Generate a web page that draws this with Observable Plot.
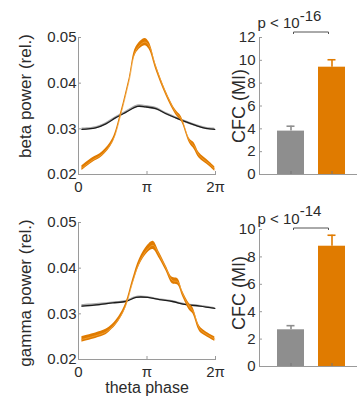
<!DOCTYPE html>
<html>
<head>
<meta charset="utf-8">
<script src="https://cdn.jsdelivr.net/npm/d3@7"></script>
<script src="https://cdn.jsdelivr.net/npm/@observablehq/plot@0.6"></script>
<style>
  html, body { margin: 0; padding: 0; background: #fff; }
  #root { position: relative; width: 357px; height: 406px; overflow: hidden; background: #fff; font-family: "Liberation Sans", Arial, sans-serif; }
  #root > div, #root > svg { position: absolute; }
</style>
</head>
<body>
<div id="root"></div>
<script>
// ---------- data (phase in units of π) ----------
const xTickValues = [0, 1, 2];
const xTickLabels = ["0", "π", "2π"];
const powerTicks = [0.02, 0.03, 0.04, 0.05];

const betaOrangePhase = [0.05, 0.2, 0.35, 0.5, 0.62, 0.74, 0.84, 0.97, 1.03, 1.13, 1.28, 1.42, 1.5, 1.62, 1.69, 1.76, 1.91, 1.99];
const betaOrange      = [0.0214, 0.0231, 0.0245, 0.0274, 0.0333, 0.0406, 0.0472, 0.0490, 0.0482, 0.0435, 0.0377, 0.0336, 0.0322, 0.0274, 0.0262, 0.0242, 0.0223, 0.0212];
const betaOrangeErr   = [0.0005, 0.0005, 0.0005, 0.0005, 0.0005, 0.0005, 0.0007, 0.0008, 0.0008, 0.0006, 0.0005, 0.0005, 0.0005, 0.0005, 0.0007, 0.0006, 0.0005, 0.0005];

const betaBlackPhase  = [0.05, 0.25, 0.4, 0.54, 0.69, 0.86, 0.98, 1.13, 1.28, 1.42, 1.57, 1.72, 1.86, 1.99];
const betaBlack       = [0.0299, 0.0302, 0.0311, 0.0324, 0.0336, 0.0349, 0.0348, 0.0344, 0.0333, 0.0324, 0.0315, 0.0307, 0.0301, 0.0299];
const betaBlackErr    = [0.00025, 0.00025, 0.00025, 0.00025, 0.00025, 0.0003, 0.0003, 0.0003, 0.00025, 0.00025, 0.00025, 0.00025, 0.00025, 0.00025];

const gammaOrangePhase = [0.05, 0.25, 0.4, 0.49, 0.59, 0.69, 0.79, 0.89, 1.01, 1.09, 1.18, 1.28, 1.37, 1.45, 1.52, 1.62, 1.67, 1.77, 1.86, 1.99];
const gammaOrange      = [0.0244, 0.0252, 0.0260, 0.0271, 0.0289, 0.0318, 0.0369, 0.0413, 0.0442, 0.0450, 0.0428, 0.0399, 0.0373, 0.0370, 0.0344, 0.0315, 0.0307, 0.0267, 0.0256, 0.0245];
const gammaOrangeErr   = [0.0006, 0.0006, 0.0006, 0.0005, 0.0005, 0.0005, 0.0006, 0.0007, 0.0008, 0.0009, 0.0007, 0.0006, 0.0007, 0.0007, 0.0006, 0.0007, 0.0007, 0.0006, 0.0005, 0.0005];

const gammaBlackPhase = [0.05, 0.3, 0.5, 0.69, 0.84, 1.01, 1.18, 1.37, 1.57, 1.77, 1.99];
const gammaBlack      = [0.0317, 0.0320, 0.0324, 0.0327, 0.0336, 0.0336, 0.0331, 0.0327, 0.0320, 0.0317, 0.0312];
const gammaBlackErr   = [0.0003, 0.0003, 0.0002, 0.0002, 0.0002, 0.0002, 0.0002, 0.0002, 0.0002, 0.0002, 0.0002];

const cfcGroups   = ["control", "coupled"];
const betaCfc     = [3.8, 9.4];
const betaCfcErr  = [0.43, 0.65];
const gammaCfc    = [2.68, 8.78];
const gammaCfcErr = [0.3, 0.8];
const betaP  = "-16";
const gammaP = "-14";
const betaTicks  = [0, 2, 4, 6, 8, 10, 12];
const gammaTicks = [0, 2, 4, 6, 8, 10];

// ---------- helpers ----------
const ORANGE = "#e07b00", ORANGE_LINE = "#f2a33a", GRAY_BAR = "#8e8e8e", AXIS = "#9a9a9a", TXT = "#2b2b2b";
const FONT = "'Liberation Sans', Arial, sans-serif";
const root = document.getElementById("root");
function rows(px, py, pe) { return px.map((p, i) => ({p, v: py[i], e: pe[i]})); }
function place(el, left, top) { el.style.position = "absolute"; el.style.left = left + "px"; el.style.top = top + "px"; root.appendChild(el); }

function curvePanel({top, height, mt, mb, label, labelDy, orange, black, xlabel}) {
  const marks = [
    Plot.frame({anchor: "left", stroke: AXIS}),
    Plot.frame({anchor: "bottom", stroke: AXIS}),
    Plot.axisY({ticks: powerTicks, tickSize: -3, tickFormat: () => "", stroke: AXIS, label: null}),
    Plot.axisX({ticks: xTickValues, tickSize: -3, tickFormat: () => "", stroke: AXIS, label: null}),
    Plot.axisY({ticks: powerTicks, tickFormat: d3.format(".2f"), tickSize: 0, tickPadding: 2, fontSize: 15, fill: TXT, label: null}),
    Plot.axisX({ticks: xTickValues, tickFormat: d => xTickLabels[xTickValues.indexOf(d)], tickSize: 0, tickPadding: 7, fontSize: 15, fill: TXT, label: null}),
    Plot.areaY(black, {x: "p", y1: d => d.v - d.e, y2: d => d.v + d.e, fill: "#a8a8a8", curve: "catmull-rom"}),
    Plot.line(black, {x: "p", y: "v", stroke: "#1c1c1c", strokeWidth: 1.3, curve: "catmull-rom"}),
    Plot.areaY(orange, {x: "p", y1: d => d.v - d.e, y2: d => d.v + d.e, fill: ORANGE, curve: "catmull-rom"}),
    Plot.line(orange, {x: "p", y: "v", stroke: ORANGE_LINE, strokeWidth: 0.8, curve: "catmull-rom"}),
    Plot.text([label], {frameAnchor: "left", text: d => d, rotate: -90, textAnchor: "middle", dx: -52.5, dy: labelDy, fontSize: 17, fill: TXT})
  ];
  if (xlabel) marks.push(Plot.text([xlabel], {frameAnchor: "bottom", text: d => d, textAnchor: "middle", dy: 33, fontSize: 16, fill: TXT}));
  const plot = Plot.plot({
    width: 230, height, marginLeft: 78, marginRight: 15, marginTop: mt, marginBottom: mb,
    style: {fontFamily: FONT, background: "transparent", overflow: "visible"},
    x: {domain: [0, 2], axis: null},
    y: {domain: [0.02, 0.05], axis: null},
    marks
  });
  place(plot, 0, top);
}

function barPanel({top, height, mt, mb, vals, errs, ticks, ymax, pexp, labelDy, textBase, bracketY, supDy}) {
  const data = cfcGroups.map((g, i) => ({g, v: vals[i], e: errs[i]}));
  const plot = Plot.plot({
    width: 127, height, marginLeft: 29, marginRight: 0, marginTop: mt, marginBottom: mb,
    style: {fontFamily: FONT, background: "transparent", overflow: "visible"},
    x: {type: "band", domain: cfcGroups, range: [47, 116], paddingInner: 0.34, paddingOuter: 0, axis: null},
    y: {domain: [0, ymax], axis: null},
    color: {domain: cfcGroups, range: [GRAY_BAR, ORANGE]},
    marks: [
      Plot.frame({anchor: "left", stroke: AXIS}),
      Plot.axisY({ticks, tickSize: -3, tickFormat: () => "", stroke: AXIS, label: null}),
      Plot.axisY({ticks, tickSize: 0, tickPadding: 4, fontSize: 15, fill: TXT, label: null}),
      Plot.barY(data, {x: "g", y: "v", fill: "g"}),
      Plot.frame({anchor: "bottom", stroke: AXIS}),
      Plot.axisX({tickSize: -3, tickFormat: () => "", stroke: "#777", label: null}),
      Plot.ruleX(data, {x: "g", y1: "v", y2: d => d.v + d.e, stroke: "g", strokeWidth: 1.6}),
      Plot.tickY(data, {x: "g", y: d => d.v + d.e, stroke: "g", strokeWidth: 1.6, insetLeft: 9.5, insetRight: 9.5}),
      Plot.text(["CFC (MI)"], {frameAnchor: "left", text: d => d, rotate: -90, textAnchor: "middle", dx: -20.5, dy: labelDy, fontSize: 18, fill: TXT})
    ]
  });
  // significance annotation built from the x scale
  const sx = plot.scale("x");
  const bw = sx.bandwidth;
  const c0 = sx.apply(cfcGroups[0]) + bw / 2;
  const c1 = sx.apply(cfcGroups[1]) + bw / 2;
  const svg = d3.select(plot.tagName.toLowerCase() === "svg" ? plot : plot.querySelector("svg"));
  const g = svg.append("g");
  g.append("path")
    .attr("d", `M${c0 + 3},${bracketY + 2}V${bracketY}H${c1 - 3}V${bracketY + 2}`)
    .attr("fill", "none").attr("stroke", "#555").attr("stroke-width", 1);
  const t = g.append("text").attr("x", c0 - 1).attr("y", textBase)
    .attr("font-family", FONT).attr("font-size", 15).attr("fill", TXT)
    .attr("xml:space", "preserve");
  t.append("tspan").text("p < 10");
  t.append("tspan").attr("dy", supDy).attr("font-size", 15).text(pexp);
  place(plot, 230, top);
}

curvePanel({top: 0, height: 200, mt: 37, mb: 26, label: "beta power (rel.)", labelDy: -10,
  orange: rows(betaOrangePhase, betaOrange, betaOrangeErr), black: rows(betaBlackPhase, betaBlack, betaBlackErr)});
curvePanel({top: 200, height: 206, mt: 22, mb: 47, label: "gamma power (rel.)", labelDy: 2,
  orange: rows(gammaOrangePhase, gammaOrange, gammaOrangeErr), black: rows(gammaBlackPhase, gammaBlack, gammaBlackErr), xlabel: "theta phase"});
barPanel({top: 0, height: 200, mt: 37, mb: 26, vals: betaCfc, errs: betaCfcErr, ticks: betaTicks, ymax: 12, pexp: betaP,
  labelDy: 0, textBase: 28, bracketY: 32, supDy: -7});
barPanel({top: 200, height: 206, mt: 29, mb: 40, vals: gammaCfc, errs: gammaCfcErr, ticks: gammaTicks, ymax: 10, pexp: gammaP,
  labelDy: -5, textBase: 24, bracketY: 28, supDy: -8});
</script>
</body>
</html>
